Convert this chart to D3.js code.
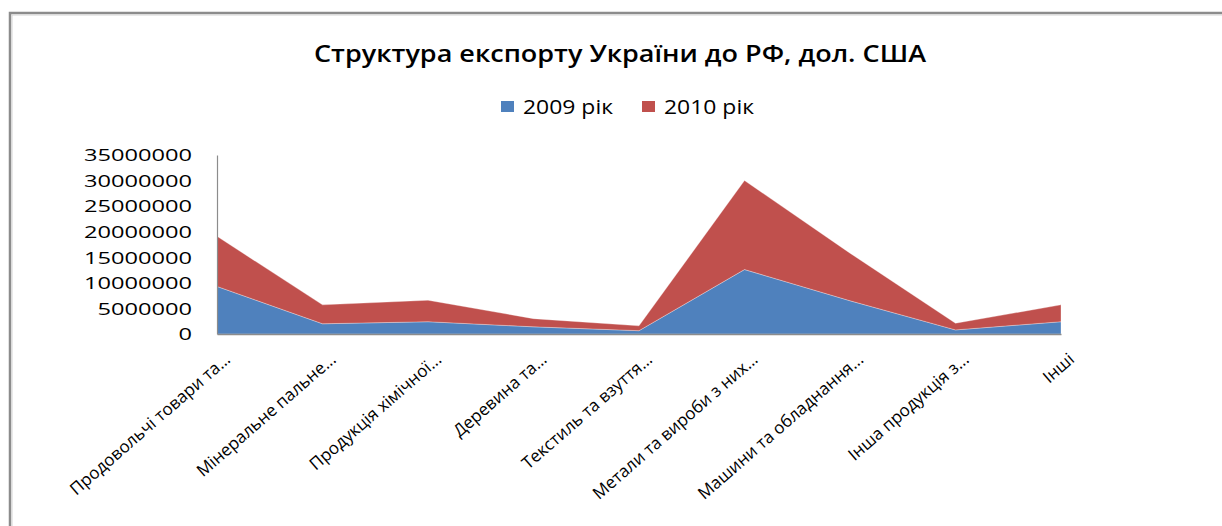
<!DOCTYPE html>
<html>
<head>
<meta charset="utf-8">
<script src="https://cdn.jsdelivr.net/npm/d3@7"></script>
<style>
  body { margin: 0; background: #fff; }
  text { font-family: "Open Sans", "DejaVu Sans", sans-serif; fill: #000; }
</style>
</head>
<body>
<div class="container"></div>
<script>
const categories = [
  "Продовольчі товари та...",
  "Мінеральне пальне...",
  "Продукція хімічної...",
  "Деревина та...",
  "Текстиль та взуття...",
  "Метали та вироби з них...",
  "Машини та обладнання...",
  "Інша продукція з...",
  "Інші"
]
const values2009 = [9300000, 2000000, 2400000, 1400000, 650000, 12600000, 6500000, 800000, 2400000]
const values2010 = [9800000, 3700000, 4200000, 1600000, 950000, 17400000, 9300000, 1300000, 3300000]
const seriesNames = ["2009 рік", "2010 рік"]
const seriesColors = ["#4F81BD", "#C0504D"]
const yTicks = [0, 5000000, 10000000, 15000000, 20000000, 25000000, 30000000, 35000000]

const W = 1222, H = 526

const svg = d3.select(".container")
              .append("svg")
              .attr("width", W)
              .attr("height", H)

// frame of the chart area
svg.append("path")
   .attr("d", "M10," + H + " V13 H" + W)
   .attr("fill", "none")
   .attr("stroke", "#8c8c8c")
   .attr("stroke-width", 2.5)
svg.append("path")
   .attr("d", "M12," + H + " V15 H" + W)
   .attr("fill", "none")
   .attr("stroke", "#d4d4d4")
   .attr("stroke-width", 1)

svg.append("text")
   .attr("x", 620)
   .attr("y", 62)
   .attr("text-anchor", "middle")
   .attr("textLength", 612)
   .attr("lengthAdjust", "spacingAndGlyphs")
   .style("font-size", "23px")
   .style("font-weight", "600")
   .text("Структура експорту України до РФ, дол. США")

// legend
const legendX = [501, 642]
seriesNames.forEach((name, i) => {
    svg.append("rect")
       .attr("x", legendX[i])
       .attr("y", 101)
       .attr("width", 13)
       .attr("height", 11)
       .attr("fill", seriesColors[i])
    svg.append("text")
       .attr("x", legendX[i] + 22)
       .attr("y", 114)
       .attr("textLength", 90)
       .attr("lengthAdjust", "spacingAndGlyphs")
       .style("font-size", "19.5px")
       .text(name)
})

const x = d3.scalePoint()
            .domain(categories)
            .range([217, 1061])

const y = d3.scaleLinear()
            .domain([0, 35000000])
            .range([334, 155])

const rows = categories.map((c, i) => ({cat: c, s0: values2009[i], s1: values2010[i]}))
const stack = d3.stack().keys(["s0", "s1"])
const layers = stack(rows)

const area = d3.area()
               .x((d) => x(d.data.cat))
               .y0((d) => y(d[0]))
               .y1((d) => y(d[1]))

svg.selectAll(".layer")
   .data(layers)
   .enter()
   .append("path")
   .attr("class", "layer")
   .attr("d", area)
   .attr("fill", (d, i) => seriesColors[i])
   .attr("stroke", "#ffffff")
   .attr("stroke-opacity", 0.5)
   .attr("stroke-width", 0.6)

// axes
const yAxis = d3.axisLeft(y).tickValues(yTicks).tickSize(0).tickPadding(25).tickFormat(d3.format("d"))
const gy = svg.append("g")
              .attr("transform", "translate(217,0)")
              .call(yAxis)
gy.select(".domain").attr("stroke", "#8c8c8c").attr("stroke-width", 1.2)
gy.selectAll("text")
  .attr("font-family", null)
  .attr("font-size", null)
  .style("font-size", "16px")
  .attr("dy", "0.36em")
  .attr("textLength", (d) => String(d).length * 13.5)
  .attr("lengthAdjust", "spacingAndGlyphs")

const xAxis = d3.axisBottom(x).tickSize(0).tickPadding(0)
const gx = svg.append("g")
              .attr("transform", "translate(0,334)")
              .call(xAxis)
gx.select(".domain").attr("stroke", "#8c8c8c").attr("stroke-width", 1.5)
gx.selectAll("text")
  .attr("font-family", null)
  .attr("font-size", null)
  .style("font-size", "17px")
  .attr("text-anchor", "end")
  .attr("y", 0)
  .attr("dy", 0)
  .attr("transform", "translate(14,27) rotate(-41)")
</script>
</body>
</html>
